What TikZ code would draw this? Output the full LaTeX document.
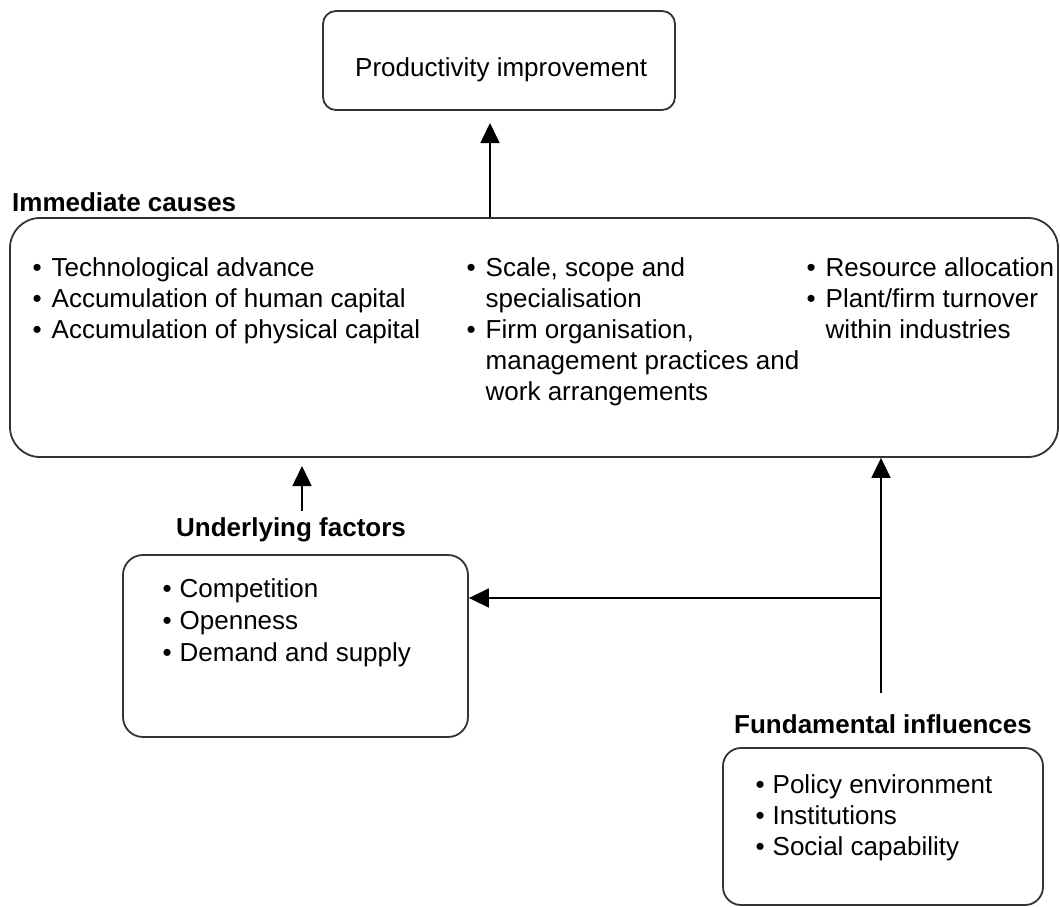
\documentclass[tikz,border=0pt]{standalone}
\usepackage{fontspec}
\setmainfont{Liberation Sans}
\usetikzlibrary{arrows.meta,positioning}

\newcommand{\bul}[1][19pt]{\makebox[#1][l]{•}}
\newcommand{\hang}[1][19pt]{\hspace*{#1}}

\begin{document}
\begin{tikzpicture}[x=1pt,y=-1pt,
        box/.style={draw=black!80,line width=1.8pt,rounded corners=#1},
        box/.default=20pt,
        txt/.style={inner sep=0pt,anchor=base west,align=left,
            font=\fontsize{26}{31}\selectfont},
        head/.style={txt,font=\fontsize{26}{31}\selectfont\bfseries},
        arr/.style={line width=1.6pt,-{Triangle[length=20pt,width=19pt]}}]
    \useasboundingbox (0,0) rectangle (1060,907);

    \node [box=13pt,minimum width=352pt,minimum height=99pt] (prod) at (499,60.5) {};
    \node [txt] (prodtxt) at (355,77) {Productivity improvement};

    % multi-line lists are anchored on their last baseline
    \node [head] (immhead) at (12,211) {Immediate causes};
    \node [box=30pt,minimum width=1048pt,minimum height=239pt] (imm) at (534,337.5) {};
    \node [txt] (immtech) at (32.5,338) {\bul Technological advance\\
        \bul Accumulation of human capital\\
        \bul Accumulation of physical capital};
    \node [txt] (immscale) at (466.5,400) {\bul Scale, scope and\\
        \hang specialisation\\
        \bul Firm organisation,\\
        \hang management practices and\\
        \hang work arrangements};
    \node [txt] (immres) at (806.5,338) {\bul Resource allocation\\
        \bul Plant/firm turnover\\
        \hang within industries};

    \node [head] (undhead) at (176,536) {Underlying factors};
    \node [box,minimum width=345pt,minimum height=182pt] (und) at (295.5,646) {};
    \node [txt,font=\fontsize{26}{32}\selectfont] (undlist) at (162.5,661) {\bul[17pt]Competition\\
        \bul[17pt]Openness\\
        \bul[17pt]Demand and supply};

    \node [head] (fundhead) at (734,733) {Fundamental influences};
    \node [box=18pt,minimum width=320pt,minimum height=157pt] (fund) at (883,826.5) {};
    \node [txt] (fundlist) at (755.5,855) {\bul[17pt]Policy environment\\
        \bul[17pt]Institutions\\
        \bul[17pt]Social capability};

    \coordinate (ptip) at (490,123);
    \coordinate (utail) at (302,511);
    \coordinate (utip) at (302,466);
    \coordinate (ftail) at (881,693);
    \coordinate (fjoin) at (881,598);

    \draw [arr] (ptip |- imm.north) -- (ptip);
    \draw [arr] (utail) -- (utip);
    \draw [arr] (ftail) -- (ftail |- imm.south);
    \draw [arr] (fjoin) -- (fjoin -| und.east);
\end{tikzpicture}
\end{document}
